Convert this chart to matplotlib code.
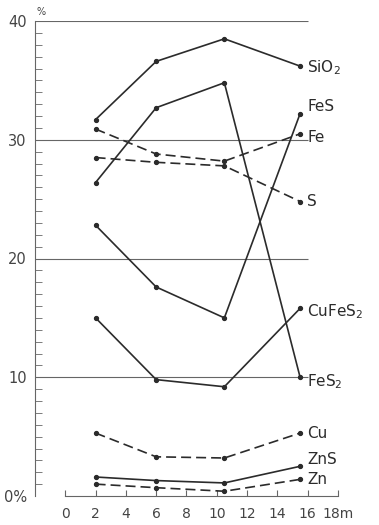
import matplotlib.pyplot as plt

# depth of sampling points, m
depth = [2, 6, 10.5, 15.5]

sio2 = [31.7, 36.6, 38.5, 36.2]
fes = [22.8, 17.6, 15.0, 32.2]
fe = [30.9, 28.8, 28.2, 30.5]
s = [28.5, 28.1, 27.8, 24.8]
cufes2 = [15.0, 9.8, 9.2, 15.8]
fes2 = [26.4, 32.7, 34.8, 10.0]
cu = [5.3, 3.3, 3.2, 5.3]
zns = [1.6, 1.3, 1.1, 2.5]
zn = [1.0, 0.7, 0.4, 1.4]

names = ["SiO$_2$", "FeS", "Fe", "S", "CuFeS$_2$", "FeS$_2$", "Cu", "ZnS", "Zn"]
series = [sio2, fes, fe, s, cufes2, fes2, cu, zns, zn]
dashed = [False, False, True, True, False, False, True, False, True]
# vertical nudge of the end labels, points
label_dy = [-1, 5, -3, 0, -2, -3, 0, 5, 0]

xticks = list(range(0, 19, 2))
xlabels = [str(t) for t in xticks[:-1]] + ["18m"]

ink = "#2b2b2b"
grey = "#666666"

fig = plt.figure(figsize=(3.79, 5.25), dpi=100)
ax = fig.add_axes([35 / 379, 29 / 525, 306 / 379, 475 / 525])
ax.set_xlim(-2, 18.2)
ax.set_ylim(0, 40)

for y in [10, 20, 30, 40]:
    ax.hlines(y, -2, 16, color=grey, lw=0.8, zorder=1)

for vals, name, ds, dy in zip(series, names, dashed, label_dy):
    ls = (0, (6, 3)) if ds else "-"
    ax.plot(depth, vals, color=ink, lw=1.2, ls=ls, marker="o", ms=2.8,
            zorder=3)
    ax.annotate(name, (depth[-1], vals[-1]), xytext=(5, dy),
                textcoords="offset points", va="center", ha="left",
                fontsize=11, color=ink)

for side in ["top", "right"]:
    ax.spines[side].set_visible(False)
ax.spines["left"].set_color(grey)
ax.spines["left"].set_bounds(0, 40)
ax.spines["bottom"].set_color(grey)
ax.spines["bottom"].set_bounds(0, 18)

ax.set_xticks(xticks)
ax.set_xticklabels(xlabels)
ax.tick_params(axis="x", direction="in", length=4, color=grey, pad=8,
               labelsize=10, labelcolor="#444444")

ax.set_yticks([0, 10, 20, 30, 40])
ax.set_yticklabels(["0%", "10", "20", "30", "40"])
ax.set_yticks(range(0, 41), minor=True)
ax.tick_params(axis="y", which="major", length=0, pad=6, labelsize=10.5,
               labelcolor="#444444")
ax.tick_params(axis="y", which="minor", direction="in", length=5, color=grey)

ax.text(-1.9, 40.3, "%", fontsize=7, color="#444444", ha="left", va="bottom")

fig.savefig("out.png", dpi=100)
